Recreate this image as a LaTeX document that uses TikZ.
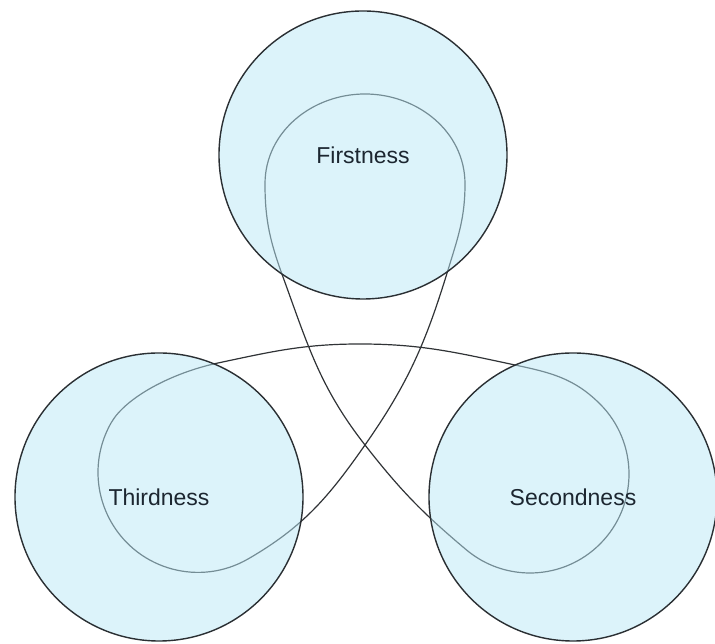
\documentclass[tikz,border=0pt]{standalone}
\usepackage{fontspec}
\setmainfont{Liberation Sans}
\usepackage{xcolor}
\usepackage{tikz}
\usetikzlibrary{positioning,shapes}
\definecolor{ringBlue}{HTML}{B9E7F5}
\definecolor{ringEdge}{HTML}{2A2F33}
\definecolor{loopGray}{HTML}{303336}
\definecolor{labelInk}{HTML}{1C2630}

\tikzset{
  ring/.style={circle, draw=ringEdge, line width=1.4pt, fill=ringBlue,
    fill opacity=0.5, draw opacity=1, text opacity=1, text=labelInk,
    minimum size=288pt, inner sep=0pt},
  knot/.style={loopGray, line width=1.2pt}
}

\begin{document}
\begin{tikzpicture}[x=1pt,y=1pt,font=\fontsize{23}{27}\selectfont]
    \useasboundingbox (0,0) rectangle (715,644);
    % the loop runs under the three rings
    \coordinate (cross) at (365,199);
    \draw[knot] (265,460) to[out=90,in=180] (365,550) to[out=0,in=90] (465,460)
      to[out=-90,in=73] (448,374) to[out=-107,in=55] (cross)
      to[out=-125,in=30] (248,85) arc[start angle=-60,end angle=-210,radius=100]
      to[out=60,in=-168,out looseness=0.6] (218,281)
      to[out=12,in=180] (360,300) to[out=0,in=168] (515,279)
      to[out=-12,in=135] (600,240) arc[start angle=45,end angle=-130,radius=99]
      to[out=140,in=-52] (cross) to[out=128,in=-70] (283,367)
      to[out=110,in=-90] cycle;
    \node[ring] (first) at (363,489) {Firstness};
    \node[ring] (third) at (159,147) {Thirdness};
    \node[ring] (second) at (573,147) {Secondness};
\end{tikzpicture}
\end{document}
